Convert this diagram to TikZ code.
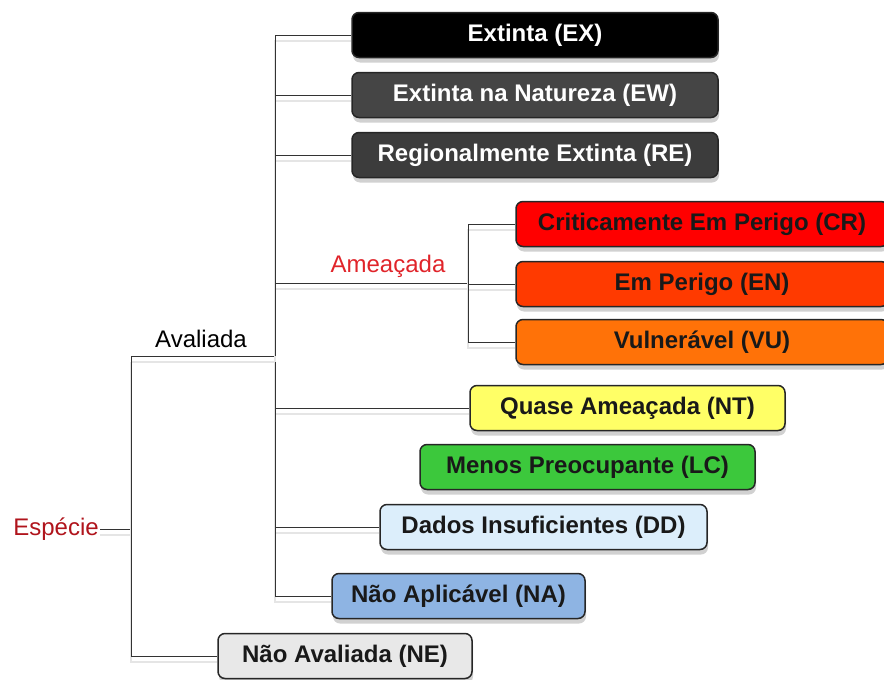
\documentclass[tikz,border=0pt]{standalone}
\usepackage{fontspec}
\setmainfont{Liberation Sans}
\usetikzlibrary{shadows}
\definecolor{cEW}{HTML}{454545} \definecolor{cRE}{HTML}{3C3C3C}
\definecolor{cCR}{HTML}{FF0000} \definecolor{cEN}{HTML}{FF3A00} \definecolor{cVU}{HTML}{FF7208}
\definecolor{cNT}{HTML}{FFFF66} \definecolor{cLC}{HTML}{3CC83C} \definecolor{cDD}{HTML}{DCEEFB}
\definecolor{cNA}{HTML}{8EB4E3} \definecolor{cNE}{HTML}{E8E8E8}
\definecolor{espred}{HTML}{B0141C} \definecolor{amred}{HTML}{E0242A}

\begin{document}
\begin{tikzpicture}[x=1pt,y=-1pt,line width=1pt,
  cat/.style={draw=black!85,line width=1.5pt,rounded corners=7pt,minimum height=45pt,inner sep=0pt,
    font=\fontsize{24}{28}\selectfont\bfseries,text=black!90,
    drop shadow={shadow xshift=1pt,shadow yshift=-5pt,opacity=.3,fill=black!60}},
  lbl/.style={font=\fontsize{24}{28}\selectfont,inner sep=1pt},
  link/.style={draw=black!80,preaction={draw=black!10,line width=2pt,transform canvas={yshift=-6pt}}}]
\clip (0,0) rectangle (884,680);
% categorias
\node[cat,fill=black,text=white,minimum width=366pt] (ex) at (535,35) {Extinta (EX)};
\node[cat,fill=cEW,text=white,minimum width=366pt] (ew) at (535,95) {Extinta na Natureza (EW)};
\node[cat,fill=cRE,text=white,minimum width=366pt] (re) at (535,155) {Regionalmente Extinta (RE)};
\node[cat,fill=cCR,minimum width=372pt] (cr) at (702,224) {Criticamente Em Perigo (CR)};
\node[cat,fill=cEN,minimum width=372pt] (en) at (702,284) {Em Perigo (EN)};
\node[cat,fill=cVU,minimum width=372pt] (vu) at (702,342) {Vulnerável (VU)};
\node[cat,fill=cNT,minimum width=315pt] (nt) at (627.5,408) {Quase Ameaçada (NT)};
\node[cat,fill=cLC,minimum width=335pt] (lc) at (587.5,467) {Menos Preocupante (LC)};
\node[cat,fill=cDD,minimum width=327pt] (dd) at (543.5,527) {Dados Insuficientes (DD)};
\node[cat,fill=cNA,minimum width=253pt] (na) at (458.5,596) {Não Aplicável (NA)};
\node[cat,fill=cNE,minimum width=254pt] (ne) at (345,656) {Não Avaliada (NE)};
% rotulos
\node[lbl,text=espred] (esp) at (56,529) {Espécie};
\node[lbl] (aval) at (201,339) {Avaliada};
\node[lbl,text=amred] (amea) at (388,266) {Ameaçada};
% ramos
\coordinate (t1) at (131,356); \coordinate (a0) at (275,356); \coordinate (m0) at (468,283);
\draw[link] (esp.east) -- (esp.east -| t1);
\draw[link] (t1) -- (a0); \draw[link] (t1) |- (ne.west);
\foreach \n in {ex,ew,re,nt,dd,na} \draw[link] (a0) |- (\n.west);
\draw[link] (a0) |- (m0);
\foreach \n in {cr,en,vu} \draw[link] (m0) |- (\n.west);
\end{tikzpicture}
\end{document}
